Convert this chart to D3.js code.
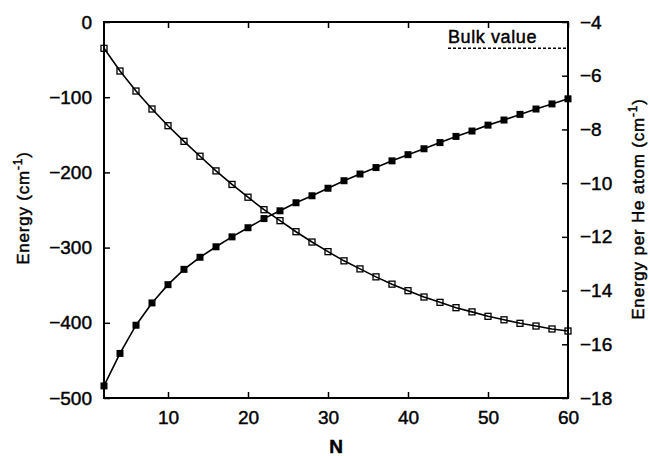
<!DOCTYPE html>
<html>
<head>
<meta charset="utf-8">
<script src="https://cdn.jsdelivr.net/npm/d3@7"></script>
<style>
  body { margin: 0; background: #fff; }
  svg text { font-family: "Liberation Sans", Arial, Helvetica, sans-serif; fill: #000; stroke: #000; stroke-width: 0.45px; }
</style>
</head>
<body>
<div class="chart"></div>
<script>
var svgWidth = 650;
var svgHeight = 456;

var margin = { top: 22, right: 82, bottom: 58, left: 104 };
var width = svgWidth - margin.left - margin.right;
var height = svgHeight - margin.top - margin.bottom;

// cluster size N
var nValues = [2, 4, 6, 8, 10, 12, 14, 16, 18, 20, 22, 24, 26, 28, 30,
  32, 34, 36, 38, 40, 42, 44, 46, 48, 50, 52, 54, 56, 58, 60];

// total energy, left axis (open squares)
var totalEnergy = [-35, -65.2, -91.8, -115.7, -137.9, -158.7, -178.5, -198, -216, -233,
  -249.6, -264.2, -278.9, -292.6, -305.4, -317.6, -328.3, -338.9, -348.6, -357.3,
  -365.7, -372.8, -379.9, -385.5, -391.4, -396, -400.7, -404.3, -408.2, -410.9];

// energy per He atom, right axis (filled squares)
var perAtomEnergy = [-17.55, -16.34, -15.29, -14.46, -13.78, -13.21, -12.76, -12.37, -12.0, -11.66,
  -11.32, -11.03, -10.73, -10.47, -10.19, -9.91, -9.66, -9.42, -9.17, -8.94,
  -8.72, -8.49, -8.26, -8.06, -7.84, -7.65, -7.44, -7.24, -7.05, -6.86];

var bulkValue = -4.98;
var bulkRange = [45, 60];

var xTicks = [10, 20, 30, 40, 50, 60];
var leftTicks = [0, -100, -200, -300, -400, -500];
var rightTicks = [-4, -6, -8, -10, -12, -14, -16, -18];

var svg = d3.select(".chart")
  .append("svg")
  .attr("width", svgWidth)
  .attr("height", svgHeight);

var chartGroup = svg.append("g")
  .attr("transform", `translate(${margin.left}, ${margin.top})`);

// scales
var xScale = d3.scaleLinear().domain([2, 60]).range([0, width]);
var yLeft = d3.scaleLinear().domain([-500, 0]).range([height, 0]);
var yRight = d3.scaleLinear().domain([-18, -4]).range([height, 0]);

// axes, ticks pointing inward
var bottomAxis = d3.axisBottom(xScale).tickValues(xTicks).tickSizeInner(-6).tickSizeOuter(0).tickPadding(13);
var topAxis = d3.axisTop(xScale).tickValues(xTicks).tickSizeInner(-6).tickSizeOuter(0).tickFormat("");
var leftAxis = d3.axisLeft(yLeft).tickValues(leftTicks).tickSizeInner(-6).tickSizeOuter(0).tickPadding(12);
var rightAxis = d3.axisRight(yRight).tickValues(rightTicks).tickSizeInner(-6).tickSizeOuter(0).tickPadding(12);

function styleAxis(g) {
  g.select(".domain").remove();
  g.selectAll(".tick line").attr("stroke", "#000").attr("stroke-width", 1.5);
  g.selectAll(".tick text").style("font-size", "19px");
}

chartGroup.append("g").attr("transform", `translate(0, ${height})`).call(bottomAxis).call(styleAxis);
chartGroup.append("g").call(topAxis).call(styleAxis);
chartGroup.append("g").call(leftAxis).call(styleAxis);
chartGroup.append("g").attr("transform", `translate(${width}, 0)`).call(rightAxis).call(styleAxis);

// frame
chartGroup.append("rect")
  .attr("width", width)
  .attr("height", height)
  .attr("fill", "none")
  .attr("stroke", "#000")
  .attr("stroke-width", 2);

// bulk value line
chartGroup.append("line")
  .attr("x1", xScale(bulkRange[0]))
  .attr("x2", xScale(bulkRange[1]))
  .attr("y1", yRight(bulkValue))
  .attr("y2", yRight(bulkValue))
  .attr("stroke", "#000")
  .attr("stroke-width", 1.5)
  .attr("stroke-dasharray", "3,2");

chartGroup.append("text")
  .attr("x", xScale(bulkRange[0]))
  .attr("y", yRight(bulkValue) - 5)
  .style("font-size", "18px")
  .style("letter-spacing", "0.6px")
  .text("Bulk value");

var totalData = nValues.map((n, i) => ({ n: n, v: totalEnergy[i] }));
var atomData = nValues.map((n, i) => ({ n: n, v: perAtomEnergy[i] }));

// total energy line + open squares
var lineLeft = d3.line().x(d => xScale(d.n)).y(d => yLeft(d.v));
chartGroup.append("path")
  .datum(totalData)
  .attr("d", lineLeft)
  .attr("fill", "none")
  .attr("stroke", "#000")
  .attr("stroke-width", 1.6);

chartGroup.selectAll(".open")
  .data(totalData)
  .enter()
  .append("rect")
  .attr("class", "open")
  .attr("x", d => xScale(d.n) - 3)
  .attr("y", d => yLeft(d.v) - 3)
  .attr("width", 6)
  .attr("height", 6)
  .attr("fill", "none")
  .attr("stroke", "#000")
  .attr("stroke-width", 1.3);

// per atom line + filled squares
var lineRight = d3.line().x(d => xScale(d.n)).y(d => yRight(d.v));
chartGroup.append("path")
  .datum(atomData)
  .attr("d", lineRight)
  .attr("fill", "none")
  .attr("stroke", "#000")
  .attr("stroke-width", 1.6);

chartGroup.selectAll(".filled")
  .data(atomData)
  .enter()
  .append("rect")
  .attr("class", "filled")
  .attr("x", d => xScale(d.n) - 3.5)
  .attr("y", d => yRight(d.v) - 3.5)
  .attr("width", 7)
  .attr("height", 7)
  .attr("fill", "#000");

// axis titles
svg.append("text")
  .attr("x", margin.left + width / 2)
  .attr("y", 453)
  .attr("text-anchor", "middle")
  .style("font-size", "19px")
  .style("font-weight", "bold")
  .text("N");

var leftTitle = svg.append("text")
  .attr("transform", "translate(28.5, 208) rotate(-90)")
  .attr("text-anchor", "middle")
  .style("font-size", "17px")
  .style("letter-spacing", "0.8px");
leftTitle.append("tspan").text("Energy (cm");
leftTitle.append("tspan").attr("dy", -7).style("font-size", "12px").text("-1");
leftTitle.append("tspan").attr("dy", 7).text(")");

var rightTitle = svg.append("text")
  .attr("transform", "translate(644, 209) rotate(-90)")
  .attr("text-anchor", "middle")
  .style("font-size", "17px")
  .style("letter-spacing", "0.8px");
rightTitle.append("tspan").text("Energy per He atom (cm");
rightTitle.append("tspan").attr("dy", -7).style("font-size", "12px").text("-1");
rightTitle.append("tspan").attr("dy", 7).text(")");
</script>
</body>
</html>
